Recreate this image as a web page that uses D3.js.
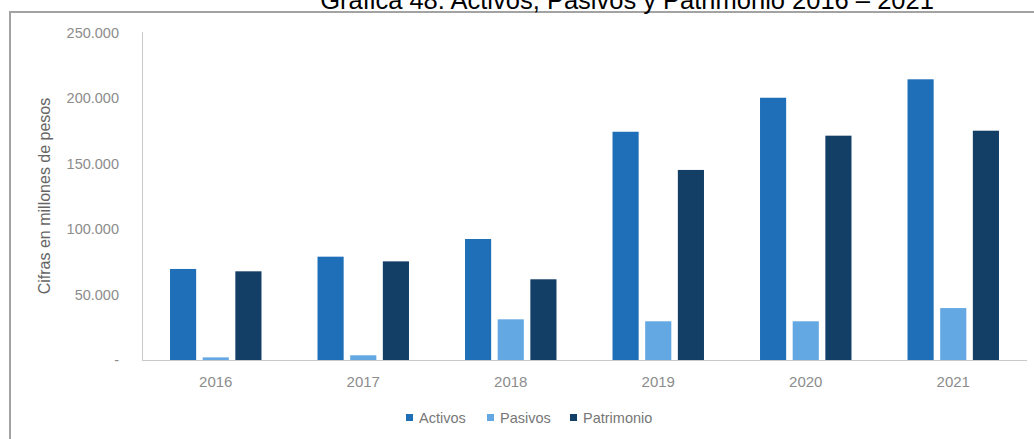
<!DOCTYPE html>
<html>
<head>
<meta charset="utf-8">
<script src="https://cdn.jsdelivr.net/npm/d3@7"></script>
<style>
    body { margin: 0; background: #fff; }
    svg { display: block; font-family: "Liberation Sans", Arial, sans-serif; }
</style>
</head>
<body>
<svg id="chart" width="1034" height="439"></svg>
<script>
var years = ["2016", "2017", "2018", "2019", "2020", "2021"];
var series = ["Activos", "Pasivos", "Patrimonio"];
var activos = [69600, 79000, 92500, 174500, 200500, 214600];
var pasivos = [2000, 3600, 31100, 29600, 29600, 39700];
var patrimonio = [67800, 75400, 61700, 145300, 171500, 175300];
var yTicks = [0, 50000, 100000, 150000, 200000, 250000];
var colors = ["#1f6fb8", "#63a8e3", "#133e66"];

var values = [activos, pasivos, patrimonio],
    rows = years.map(function(y, i) {
        return {
            "year": y,
            "bars": series.map(function(s, j) {
                return {"name": s, "value": values[j][i], "color": colors[j]};
            })
        };
    });

var svg = d3.select("svg#chart");

// frame around the chart (cut at right and bottom like the picture)
svg.append("path")
    .attr("d", "M10 440 L10 12 L1040 12")
    .attr("fill", "none")
    .attr("stroke", "#a3a3a3")
    .attr("stroke-width", 2);

svg.append("text")
    .attr("x", 627)
    .attr("y", 9)
    .attr("text-anchor", "middle")
    .style("font-size", "25.5px")
    .style("fill", "#000")
    .text("Gráfica 48. Activos, Pasivos y Patrimonio 2016 – 2021");

var x0 = d3.scaleBand()
    .domain(years)
    .range([142, 1027]);

var groupWidth = x0.bandwidth() * 0.62;

var x1 = d3.scaleBand()
    .domain(series)
    .range([0, groupWidth])
    .paddingInner(0.2);

var y = d3.scaleLinear()
    .domain([0, 250000])
    .range([360, 33]);

var fmt = function(d) {
    return d === 0 ? "-" : d3.format(",")(d).replace(/,/g, ".");
};

// y tick labels
svg.append("g")
    .selectAll("text")
    .data(yTicks)
    .enter()
    .append("text")
        .attr("x", 119)
        .attr("y", function(d) { return y(d) + 5; })
        .attr("text-anchor", "end")
        .style("font-size", "14.5px")
        .style("fill", "#8c8c8c")
        .text(fmt);

svg.append("text")
    .attr("transform", "translate(" + [50, 196] + ") rotate(-90)")
    .attr("text-anchor", "middle")
    .style("font-size", "16px")
    .style("fill", "#666")
    .text("Cifras en millones de pesos");

// bars
var group = svg.selectAll("g.year")
    .data(rows)
    .enter()
    .append("g")
        .attr("class", "year")
        .attr("transform", function(d) {
            return "translate(" + [x0(d.year) + (x0.bandwidth() - groupWidth) / 2, 0] + ")";
        });

group.selectAll("rect")
    .data(function(d) { return d.bars; })
    .enter()
    .append("rect")
        .attr("x", function(d) { return x1(d.name); })
        .attr("y", function(d) { return y(d.value); })
        .attr("width", x1.bandwidth())
        .attr("height", function(d) { return y(0) - y(d.value); })
        .attr("fill", function(d) { return d.color; });

// axis lines
svg.append("line")
    .attr("x1", 142.5).attr("x2", 142.5)
    .attr("y1", 32).attr("y2", 360.5)
    .attr("stroke", "#c9c9c9");

svg.append("line")
    .attr("x1", 142).attr("x2", 1027)
    .attr("y1", 360.5).attr("y2", 360.5)
    .attr("stroke", "#c9c9c9");

// x labels
svg.append("g")
    .selectAll("text")
    .data(years)
    .enter()
    .append("text")
        .attr("x", function(d) { return x0(d) + x0.bandwidth() / 2; })
        .attr("y", 387)
        .attr("text-anchor", "middle")
        .style("font-size", "15px")
        .style("fill", "#8c8c8c")
        .text(function(d) { return d; });

// legend
var legendX = [406, 487, 570];

var legend = svg.selectAll("g.legend")
    .data(series)
    .enter()
    .append("g")
        .attr("class", "legend")
        .attr("transform", function(d, i) {
            return "translate(" + [legendX[i], 414] + ")";
        });

legend.append("rect")
    .attr("width", 7)
    .attr("height", 7)
    .attr("fill", function(d, i) { return colors[i]; });

legend.append("text")
    .attr("x", 13)
    .attr("y", 8.5)
    .style("font-size", "14.5px")
    .style("fill", "#777")
    .text(function(d) { return d; });
</script>
</body>
</html>
